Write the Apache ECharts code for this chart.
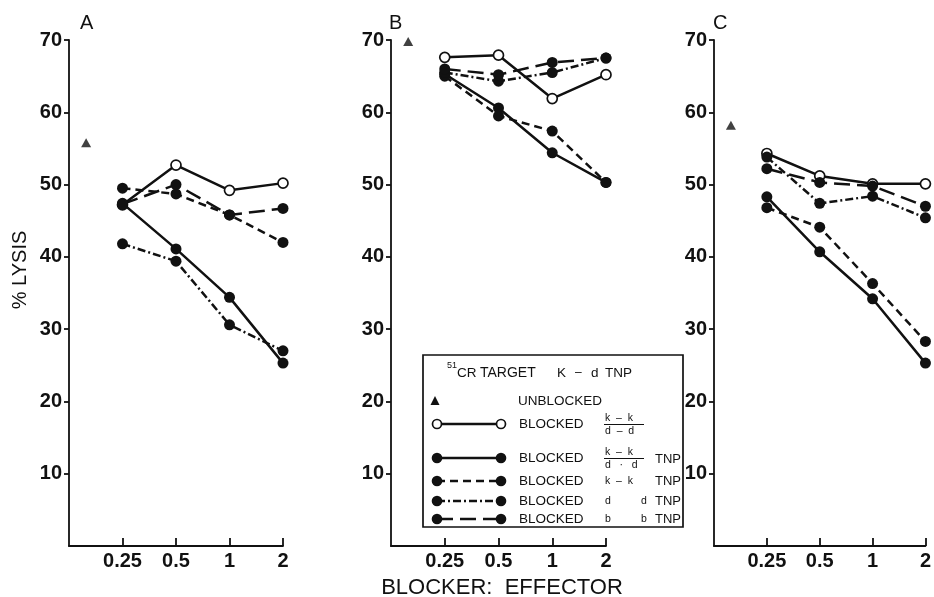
<!DOCTYPE html>
<html>
<head>
<meta charset="utf-8">
<script src="https://cdn.jsdelivr.net/npm/echarts@6/dist/echarts.min.js"></script>
<style>
  html, body { margin: 0; padding: 0; background: #fff; }
  #chart { width: 934px; height: 597px; }
</style>
</head>
<body>
<div id="chart"></div>
<script>
// ---- data ----
const xTickLabels = ['0.25', '0.5', '1', '2'];
const xPositions = [1, 2, 3, 4];
const yTicks = [10, 20, 30, 40, 50, 60, 70];
const panelNames = ['A', 'B', 'C'];
const unblockedX = 0.32;
const unblocked = [55.8, 69.8, 58.2];

const A_open    = [47.2, 52.7, 49.2, 50.2];
const A_solid   = [47.4, 41.1, 34.4, 25.3];
const A_short   = [49.5, 48.7, 45.8, 42.0];
const A_dashdot = [41.8, 39.4, 30.6, 27.0];
const A_long    = [47.3, 50.0, 45.8, 46.7];

const B_open    = [67.6, 67.9, 61.9, 65.2];
const B_solid   = [65.3, 60.6, 54.4, 50.3];
const B_short   = [65.0, 59.5, 57.4, 50.3];
const B_dashdot = [65.5, 64.3, 65.5, 67.5];
const B_long    = [66.0, 65.2, 66.9, 67.5];

const C_open    = [54.3, 51.2, 50.1, 50.1];
const C_solid   = [48.3, 40.7, 34.2, 25.3];
const C_short   = [46.8, 44.1, 36.3, 28.3];
const C_dashdot = [53.8, 47.4, 48.4, 45.4];
const C_long    = [52.2, 50.3, 49.8, 47.0];

const panels = [
  [A_open, A_solid, A_short, A_dashdot, A_long],
  [B_open, B_solid, B_short, B_dashdot, B_long],
  [C_open, C_solid, C_short, C_dashdot, C_long]
];

// ---- styles ----
const INK = '#111';
const FONT = '"Liberation Sans", Arial, sans-serif';
const lineTypes = ['solid', 'solid', [8, 5], [8, 3, 2, 3], [16, 7]];
const openFlags = [true, false, false, false, false];

const grids = [
  { left: 69, right: 651, top: 40, bottom: 51 },
  { left: 391, right: 328, top: 40, bottom: 51 },
  { left: 714, right: 4, top: 40, bottom: 51 }
];

const xAxes = grids.map((g, i) => ({
  type: 'value', gridIndex: i, min: 0, max: 4, interval: 1,
  axisLine: { show: true, lineStyle: { color: INK, width: 1.8 } },
  axisTick: { show: true, inside: true, length: 8, lineStyle: { color: INK, width: 1.8 }, customValues: xPositions },
  axisLabel: { customValues: xPositions, formatter: v => xTickLabels[xPositions.indexOf(v)] || '',
    color: INK, fontSize: 20, fontWeight: 'bold', fontFamily: FONT, margin: 5 },
  splitLine: { show: false }
}));

const yAxes = grids.map((g, i) => ({
  type: 'value', gridIndex: i, min: 0, max: 70, interval: 10,
  axisLine: { show: true, lineStyle: { color: INK, width: 1.8 } },
  axisTick: { show: true, inside: false, length: 5, lineStyle: { color: INK, width: 1.8 }, customValues: yTicks },
  axisLabel: { customValues: yTicks, color: INK, fontSize: 20, fontWeight: 'bold', fontFamily: FONT, margin: 7 },
  splitLine: { show: false }
}));

const series = [];
panels.forEach((sets, p) => {
  sets.forEach((vals, s) => {
    const open = openFlags[s];
    series.push({
      type: 'line', xAxisIndex: p, yAxisIndex: p,
      data: xPositions.map((x, i) => [x, vals[i]]),
      symbol: 'circle', symbolSize: open ? 10 : 11, showSymbol: true,
      lineStyle: { color: INK, width: 2.5, type: lineTypes[s] },
      itemStyle: open ? { color: '#fff', borderColor: INK, borderWidth: 1.7 } : { color: INK, borderColor: INK, borderWidth: 0 },
      z: 2 + s, animation: false, silent: true
    });
  });
  series.push({
    type: 'scatter', xAxisIndex: p, yAxisIndex: p,
    data: [[unblockedX, unblocked[p]]],
    symbol: 'triangle', symbolSize: [10, 9], itemStyle: { color: INK },
    animation: false, silent: true
  });
});

// ---- legend (drawn as graphic) ----
const LX0 = 437, LX1 = 501;
const legendRows = [
  { y: 424, s: 0 }, { y: 458, s: 1 }, { y: 481, s: 2 }, { y: 501, s: 3 }, { y: 519, s: 4 }
];
const g = [];
function t(x, y, text, size) {
  g.push({ type: 'text', x: x, y: y, style: { text: text, fontSize: size || 10.5, fontFamily: FONT, fill: INK, verticalAlign: 'middle' }, z: 51 });
}
g.push({ type: 'rect', shape: { x: 423, y: 355, width: 260, height: 172 },
  style: { fill: '#fff', stroke: INK, lineWidth: 1.7 }, z: 50 });
t(447, 366, '51', 9);
t(457, 373, 'CR', 13.5);
t(480, 373, 'TARGET', 14);
t(557, 373, 'K', 13.5);
t(575, 373, '–', 12);
t(591, 373, 'd', 13.5);
t(605, 373, 'TNP', 13.5);
g.push({ type: 'polygon', shape: { points: [[435, 396], [430.5, 405], [439.5, 405]] }, style: { fill: INK }, z: 51 });
t(518, 401, 'UNBLOCKED', 13.5);
legendRows.forEach(r => {
  const open = openFlags[r.s];
  const lt = lineTypes[r.s];
  g.push({ type: 'line', shape: { x1: LX0, y1: r.y, x2: LX1, y2: r.y },
    style: { stroke: INK, lineWidth: 2.5, lineDash: Array.isArray(lt) ? lt : null }, z: 51 });
  [LX0, LX1].forEach(cx => g.push({ type: 'circle', shape: { cx: cx, cy: r.y, r: open ? 4.5 : 5.3 },
    style: open ? { fill: '#fff', stroke: INK, lineWidth: 1.7 } : { fill: INK }, z: 52 }));
  t(519, r.y, 'BLOCKED', 13.5);
});
// fractions & labels
t(605, 418, 'k  –  k'); g.push({ type: 'line', shape: { x1: 604, y1: 424.5, x2: 644, y2: 424.5 }, style: { stroke: INK, lineWidth: 1.1 }, z: 51 }); t(605, 431, 'd  –  d');
t(605, 452, 'k  –  k'); g.push({ type: 'line', shape: { x1: 604, y1: 458.5, x2: 644, y2: 458.5 }, style: { stroke: INK, lineWidth: 1.1 }, z: 51 }); t(605, 465, 'd   ·   d');
t(655, 459, 'TNP', 13);
t(605, 481, 'k  –  k'); t(655, 481, 'TNP', 13);
t(605, 501, 'd'); t(641, 501, 'd'); t(655, 501, 'TNP', 13);
t(605, 519, 'b'); t(641, 519, 'b'); t(655, 519, 'TNP', 13);

// axis titles
g.push({ type: 'text', x: 20, y: 270, rotation: Math.PI / 2,
  style: { text: '% LYSIS', fontSize: 20, fontFamily: FONT, fill: INK, align: 'center', verticalAlign: 'middle' } });
g.push({ type: 'text', x: 502, y: 588,
  style: { text: 'BLOCKER:  EFFECTOR', fontSize: 22, fontFamily: FONT, fill: INK, align: 'center', verticalAlign: 'middle' } });

const titles = [
  { text: panelNames[0], left: 80, top: 13 },
  { text: panelNames[1], left: 389, top: 13 },
  { text: panelNames[2], left: 713, top: 13 }
].map(o => Object.assign(o, { padding: 0, textStyle: { fontSize: 20, fontWeight: 'normal', color: INK, fontFamily: FONT } }));

const chart = echarts.init(document.getElementById('chart'), null, { renderer: 'canvas' });
chart.setOption({
  backgroundColor: '#fff',
  animation: false,
  title: titles,
  grid: grids,
  xAxis: xAxes,
  yAxis: yAxes,
  series: series,
  graphic: g
});
</script>
</body>
</html>
